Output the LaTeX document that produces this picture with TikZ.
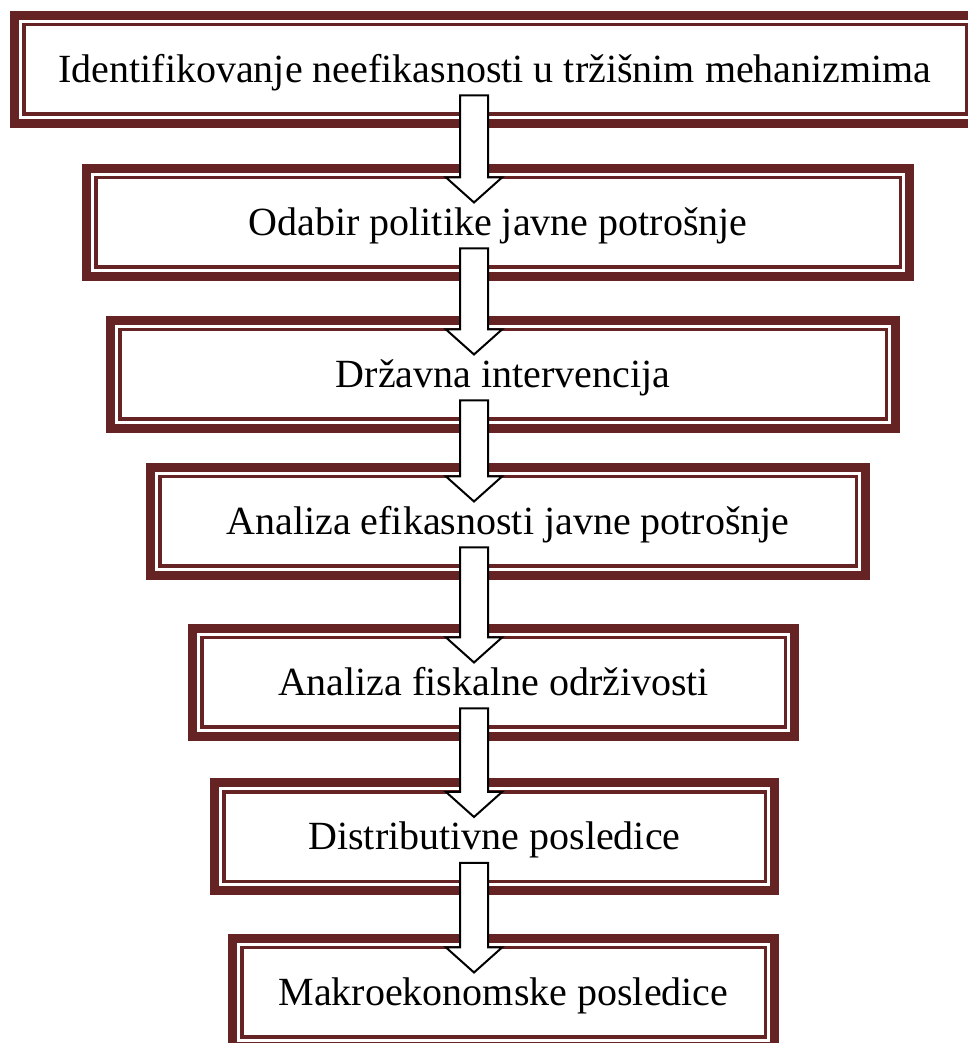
\documentclass[tikz,border=0pt]{standalone}
\usepackage{fontspec}
\setmainfont{Liberation Serif}
\usetikzlibrary{calc}
\definecolor{wine}{HTML}{662323}
\tikzset{
  stepbox/.style={draw=wine, line width=9pt, fill=white, outer sep=0pt, minimum height=108pt,
    font=\fontsize{40}{46}\selectfont, text height=27pt, text depth=1pt},
  innerrule/.style={draw=wine, line width=3.5pt},
  blockarrow/.style={draw=black, fill=white, line width=2pt, line join=miter},
}
\newcommand{\innerframe}[1]{\draw[innerrule] ([shift={(9.25pt,-9.25pt)}]#1.north west) rectangle ([shift={(-9.25pt,9.25pt)}]#1.south east);}
\newcommand{\flowarrow}[2]{%
  \draw[blockarrow] ($(#1.south -| axis)+(-14,28)$) -- ($(#2.north -| axis)+(-14,-9)$)
    -- ++(-14,0) -- ($(#2.north -| axis)+(0,-34)$) -- ++(28,25) -- ++(-14,0)
    -- ($(#1.south -| axis)+(14,28)$) -- cycle;}

\begin{document}
\begin{tikzpicture}[x=1pt, y=1pt]
    \useasboundingbox (0,0) rectangle (968,1043);
    \coordinate (axis) at (474,0);

    \node[stepbox, minimum width=961pt] (ident) at (495,973.5) {Identifikovanje neefikasnosti u tržišnim mehanizmima};
    \node[stepbox, minimum width=823pt] (odabir) at (498,820.5) {Odabir politike javne potrošnje};
    \node[stepbox, minimum width=785pt] (interv) at (503,668.5) {Državna intervencija};
    \node[stepbox, minimum width=715pt] (efik) at (508,521.5) {Analiza efikasnosti javne potrošnje};
    \node[stepbox, minimum width=602pt] (fisk) at (493.5,360.5) {Analiza fiskalne održivosti};
    \node[stepbox, minimum width=560pt] (distr) at (494.5,206) {Distributivne posledice};
    \node[stepbox, minimum width=542pt] (makro) at (503.5,50.5) {Makroekonomske posledice};

    \foreach \n in {ident,odabir,interv,efik,fisk,distr,makro}
      {\innerframe{\n}}

    \flowarrow{ident}{odabir}
    \flowarrow{odabir}{interv}
    \flowarrow{interv}{efik}
    \flowarrow{efik}{fisk}
    \flowarrow{fisk}{distr}
    \flowarrow{distr}{makro}
  \end{tikzpicture}
\end{document}
